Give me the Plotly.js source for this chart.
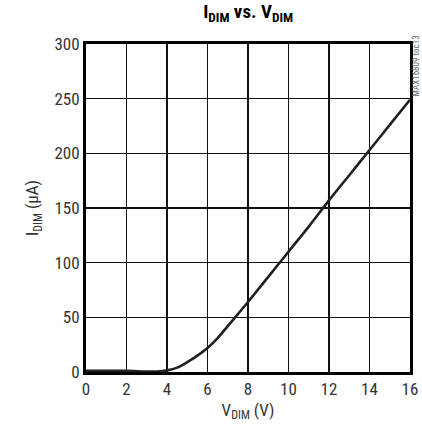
<!DOCTYPE html>
<html><head><meta charset="utf-8">
<script src="https://cdn.plot.ly/plotly-3.0.1.min.js"></script>
<style>html,body{margin:0;padding:0;background:#fff}</style>
</head><body><div id="chart" style="width:422px;height:434px"></div>
<script>
const vdim = [0,1,2,3,3.5,4,4.5,5,5.5,6,6.5,7,7.5,8,9,10,11,12,13,14,15,16];
const idim = [1,1,1,0.5,0.5,1.5,4,9,15,22,31,42,53,64,87,110,133,157,180,203,226,249];
const xTicks = [0,2,4,6,8,10,12,14,16];
const yTicks = [0,50,100,150,200,250,300];
const F = "'Liberation Sans Narrow', 'Arial Narrow', 'Roboto Condensed', sans-serif";
const ink = '#231f20';
Plotly.newPlot('chart', [{
  x: vdim, y: idim, type: 'scatter', mode: 'lines',
  line: {color: ink, width: 2.6, shape: 'spline', smoothing: 0.8},
  hoverinfo: 'none'
}], {
  width: 422, height: 434,
  margin: {l: 86, r: 12, t: 44, b: 62},
  paper_bgcolor: '#fff', plot_bgcolor: '#fff',
  showlegend: false,
  font: {family: F, color: ink, size: 17},
  title: {text: '<b>I<sub>DIM</sub> vs. V<sub>DIM</sub></b>', x: 0.588, xanchor: 'center', y: 0.99, yanchor: 'top', font: {family: F, size: 19, color: '#000'}},
  xaxis: {range: [0,16], tickvals: xTicks, ticktext: xTicks.map(String), ticks: '', showgrid: true, gridcolor: '#111', gridwidth: 1.2,
    zeroline: false, showline: true, mirror: true, linecolor: '#000', linewidth: 3,
    tickfont: {family: F, size: 17, color: '#333'},
    title: {text: 'V<sub>DIM</sub> (V)', standoff: 6, font: {family: F, size: 17, color: '#333'}}, fixedrange: true},
  yaxis: {range: [0,300], tickvals: yTicks, ticktext: yTicks.map(String), ticks: '', showgrid: true, gridcolor: '#111', gridwidth: 1.2,
    zeroline: false, showline: true, mirror: true, linecolor: '#000', linewidth: 3,
    tickfont: {family: F, size: 17, color: '#333'},
    title: {text: 'I<sub>DIM</sub> (µA)', standoff: 12, font: {family: F, size: 17, color: '#333'}}, fixedrange: true},
  annotations: [{text: 'MAX16809 toc13', xref: 'paper', yref: 'paper', x: 1.016, y: 1.03, xanchor: 'center', yanchor: 'top',
    textangle: -90, showarrow: false, font: {family: F, size: 9, color: '#666'}}]
}, {staticPlot: true});
</script></body></html>
